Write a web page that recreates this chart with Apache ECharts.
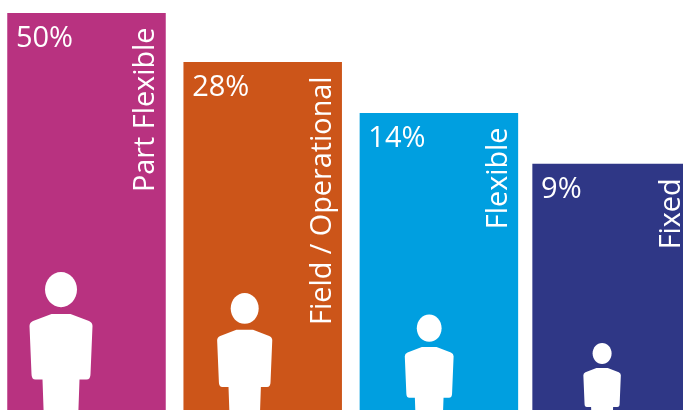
<!DOCTYPE html>
<html>
<head>
<meta charset="utf-8">
<style>html,body{margin:0;padding:0;background:#fff;overflow:hidden}#chart{width:683px;height:410px}</style>
<script src="https://cdn.jsdelivr.net/npm/echarts@6/dist/echarts.min.js"></script>
</head>
<body>
<div id="chart"></div>
<script>
// Share of the workforce by working style
const categories = ['Part Flexible', 'Field / Operational', 'Flexible', 'Fixed'];
const shares = [50, 28, 14, 9];
const colors = ['#B83280', '#CC5519', '#009FE0', '#2F3786'];

// Figure drawn inside each column: scale, offset from the column centre, head top
const figures = [
  { scale: 1, dx: -25.5, top: 272 },
  { scale: 0.875, dx: -18, top: 293 },
  { scale: 0.775, dx: -9.7, top: 314.5 },
  { scale: 0.595, dx: -9.5, top: 343 }
];
const columnShift = [0, 0, 0, -3.5];
const columnWidth = 158.5;
const bodyPath = 'M22 0L41 0L59.5 7Q63 8.5 63 12L61 60Q61 65.5 57 65.5L50 65.5L48.5 108L14.5 108L13 65.5L6 65.5Q2 65.5 2 60L0 12Q0 8.5 3.5 7Z';
const font = '"Open Sans", sans-serif';

function renderColumn(params, api) {
  const i = api.value(0);
  const share = api.value(1);
  const top = api.coord([i, share]);
  const base = api.coord([i, 1]);
  const cx = top[0] + columnShift[i];
  const left = cx - columnWidth / 2;
  const right = cx + columnWidth / 2;
  const f = figures[i];
  const fx = cx + f.dx;
  return {
    type: 'group',
    children: [
      { type: 'rect', shape: { x: left, y: top[1], width: columnWidth, height: base[1] - top[1] }, style: { fill: colors[i] } },
      { type: 'ellipse', shape: { cx: fx, cy: f.top + 17.6 * f.scale, rx: 16 * f.scale, ry: 17.6 * f.scale }, style: { fill: '#fff' } },
      { type: 'path', shape: { pathData: bodyPath, x: fx - 31.5 * f.scale, y: f.top + 42 * f.scale, width: 63 * f.scale, height: 108 * f.scale }, style: { fill: '#fff' } },
      { type: 'text', x: left + 8.7, y: top[1] + 26, style: { text: share + '%', fill: '#fff', font: '29px ' + font, textAlign: 'left', textVerticalAlign: 'middle' } },
      { type: 'text', x: right - 19.5, y: top[1] + 14.5, rotation: Math.PI / 2, style: { text: categories[i], fill: '#fff', font: '28.8px ' + font, textAlign: 'right', textVerticalAlign: 'middle' } }
    ]
  };
}

const chart = echarts.init(document.getElementById('chart'), null, { renderer: 'canvas' });
chart.setOption({
  animation: false,
  backgroundColor: '#fff',
  grid: { left: -1.6, width: 704.8, top: 13, bottom: -7, outerBoundsMode: 'none' },
  xAxis: { type: 'category', data: categories, show: false },
  yAxis: {
    type: 'log',
    logBase: Math.E,
    min: 1,
    max: 50,
    show: false,
    breaks: [
      { start: 16, end: 24, gap: '4.43%' },
      { start: 32, end: 45, gap: '5.3%' }
    ],
    breakArea: { show: false }
  },
  series: [{
    type: 'custom',
    clip: false,
    silent: true,
    encode: { x: 0, y: 1 },
    data: shares.map((s, i) => [i, s]),
    renderItem: renderColumn
  }]
});
</script>
</body>
</html>
